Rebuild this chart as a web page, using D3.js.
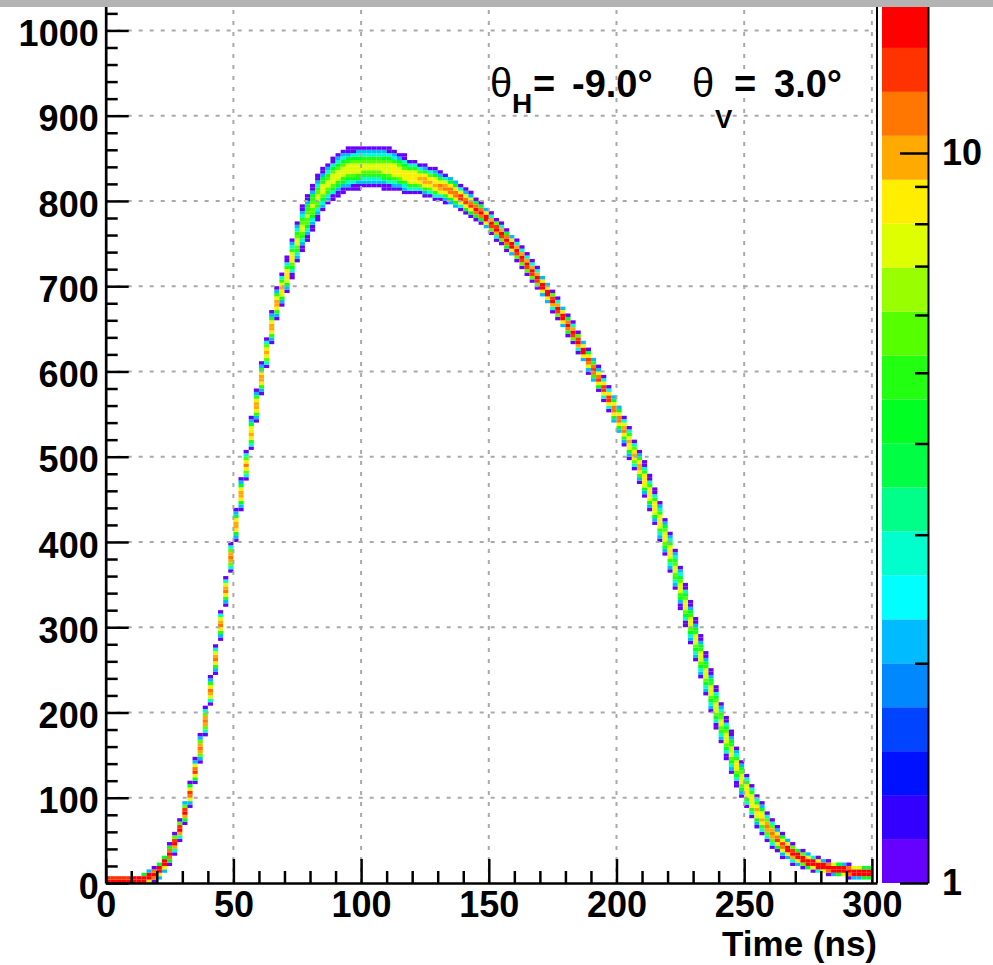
<!DOCTYPE html>
<html>
<head>
<meta charset="utf-8">
<script src="https://cdn.jsdelivr.net/npm/d3@7"></script>
<style>
  body { margin: 0; background: #fff; }
  text { font-family: "Liberation Sans", Arial, sans-serif; }
</style>
</head>
<body>
<svg id="chart" width="993" height="965"></svg>
<script>
// 2D histogram: x = time in 2 ns bins (0..300), y = pulse height in 4-unit bins
var binWidthNs = 2;
var binHeightAdc = 4;

// centre of the band, one value per 2 ns bin (bin centres 1, 3, ..., 299 ns)
var ridgeAdc = [
  3, 3, 3, 3, 3, 4, 4, 5, 7, 10,
  15, 23, 34, 47, 63, 83, 105, 131, 158, 190,
  225, 263, 303, 343, 382, 420, 456, 490, 527, 560,
  592, 622, 652, 680, 697, 713, 733, 752, 768, 781,
  793, 804, 813, 820, 826, 831, 835, 837, 838, 839,
  840, 840, 840, 840, 839, 838, 836, 834, 831, 828,
  828, 826, 824, 822, 819, 817, 815, 812, 808, 804,
  799, 795, 790, 786, 780, 773, 767, 761, 754, 748,
  741, 733, 725, 717, 709, 700, 692, 683, 673, 664,
  654, 645, 635, 624, 613, 602, 591, 580, 568, 556,
  544, 531, 517, 502, 488, 473, 457, 441, 424, 406,
  388, 368, 347, 326, 305, 285, 265, 245, 225, 206,
  188, 170, 153, 137, 122, 108, 96, 85, 75, 66,
  58, 51, 45, 40, 35, 31, 28, 25, 23, 21,
  19, 18, 17, 16, 15, 14, 13, 13, 12, 12
];

// vertical spread (sigma, ADC units) of the band in each time bin
var spreadAdc = [
  2, 2, 2, 2, 2, 2, 2, 2.5, 3, 3,
  4, 4, 4.5, 5, 5, 5.5, 6, 6, 6.5, 7,
  7, 7, 7, 7, 7, 7.5, 7.5, 7.5, 8, 8,
  8, 8, 8, 8, 8, 9, 10, 11, 12, 12,
  12, 12, 11, 11, 11, 11, 11, 11, 11, 11,
  11, 11, 11, 11, 11, 11, 10, 10, 10, 9,
  9, 8, 8, 8, 8, 7, 7, 7, 7, 6,
  6, 6, 5, 5, 5, 5, 5, 5, 5, 5,
  5, 5, 5, 5, 5, 5, 5, 5, 5, 5,
  5, 5, 5, 5, 6, 6, 6, 6, 6, 7,
  7, 7, 8, 8, 8, 9, 9, 9, 10, 10,
  10, 11, 11, 11, 11, 11, 11, 11, 11, 11,
  11, 11, 11, 10, 10, 9, 9, 8, 8, 7,
  7, 6, 6, 5, 5, 4, 4, 4, 3.5, 3.5,
  3, 3, 3, 3, 3, 3, 3, 3, 3, 3
];

var entriesPerColumn = 50;

var xTicks = [0, 50, 100, 150, 200, 250, 300];
var yTicks = [0, 100, 200, 300, 400, 500, 600, 700, 800, 900, 1000];
var zTicks = [1, 10];
var zMinorTicks = [2, 3, 4, 5, 6, 7, 8, 9];
var zMax = 16;
var nContours = 20;

// palette, bottom (1 entry) to top
var palette = ["#6600ff", "#3300ff", "#0011ff", "#0044ff", "#0088ff",
               "#00bbff", "#00ffff", "#00ffcc", "#00ff88", "#00ff44",
               "#00ff22", "#22ff11", "#55ff00", "#99ff00", "#ddff00",
               "#ffee00", "#ffaa00", "#ff7700", "#ff3300", "#ff0000"];

var svg = d3.select("#chart");

var x = d3.scaleLinear().domain([0, 302]).range([105.7, 877]);
var y = d3.scaleLinear().domain([0, 1031]).range([883, 4]);
var z = d3.scaleLog().domain([1, zMax]).range([883, 4]);

function colorOf(count) {
    var idx = Math.floor(nContours * Math.log(count) / Math.log(zMax) + 1e-9);
    return palette[Math.max(0, Math.min(nContours - 1, idx))];
}

// fill the histogram cells from the band centre / spread of each column
var cells = [];
ridgeAdc.forEach(function (c, i) {
    var s = spreadAdc[i];
    var lo = Math.floor((c - 5 * s) / binHeightAdc);
    var hi = Math.ceil((c + 5 * s) / binHeightAdc);
    for (var b = Math.max(0, lo); b <= hi; b++) {
        var mid = b * binHeightAdc + binHeightAdc / 2;
        var pdf = Math.exp(-0.5 * Math.pow((mid - c) / s, 2)) / (Math.sqrt(2 * Math.PI) * s);
        var n = Math.round(entriesPerColumn * binHeightAdc * pdf);
        if (n >= 1) cells.push({t: i * binWidthNs, v: b * binHeightAdc, n: n});
    }
});

svg.append("g").selectAll("rect")
    .data(cells)
    .enter()
    .append("rect")
    .attr("x", d => x(d.t))
    .attr("y", d => y(d.v + binHeightAdc))
    .attr("width", d => x(d.t + binWidthNs) - x(d.t))
    .attr("height", d => y(d.v) - y(d.v + binHeightAdc))
    .attr("fill", d => colorOf(d.n));

// grid
var grid = svg.append("g")
    .attr("stroke", "#a9a9a9")
    .attr("stroke-width", 2)
    .attr("stroke-dasharray", "4,7");
grid.selectAll(".gx").data(xTicks.slice(1)).enter().append("line")
    .attr("x1", d => x(d)).attr("x2", d => x(d))
    .attr("y1", y(0)).attr("y2", 4);
grid.selectAll(".gy").data(yTicks.slice(1)).enter().append("line")
    .attr("x1", x(0)).attr("x2", x(302))
    .attr("y1", d => y(d)).attr("y2", d => y(d));

// axes (ticks point into the frame like ROOT)
var yAxis = svg.append("g")
    .attr("transform", "translate(" + x(0) + ",0)")
    .call(d3.axisLeft(y).tickValues(yTicks).tickFormat(d3.format("d"))
        .tickSizeInner(-23).tickSizeOuter(0).tickPadding(7));
svg.append("g")
    .attr("transform", "translate(" + x(0) + ",0)")
    .call(d3.axisLeft(y).tickValues(d3.range(20, 1031, 20).filter(v => v % 100 !== 0))
        .tickSizeInner(-12).tickSizeOuter(0).tickFormat(""))
    .select(".domain").remove();

var xAxis = svg.append("g")
    .attr("transform", "translate(0," + y(0) + ")")
    .call(d3.axisBottom(x).tickValues(xTicks).tickFormat(d3.format("d"))
        .tickSizeInner(-24).tickSizeOuter(0).tickPadding(8));
svg.append("g")
    .attr("transform", "translate(0," + y(0) + ")")
    .call(d3.axisBottom(x).tickValues(d3.range(10, 301, 10).filter(v => v % 50 !== 0))
        .tickSizeInner(-12).tickSizeOuter(0).tickFormat(""))
    .select(".domain").remove();

svg.selectAll(".tick line").attr("stroke", "#000").attr("stroke-width", 2.5);
svg.selectAll(".domain").attr("stroke", "#000").attr("stroke-width", 2.7);
yAxis.selectAll("text").attr("dy", "0.42em");
svg.selectAll(".tick text")
    .attr("font-family", "Liberation Sans, Arial, sans-serif")
    .attr("font-weight", "bold")
    .attr("font-size", 36)
    .attr("fill", "#000");

// right frame line
svg.append("line")
    .attr("x1", 877).attr("x2", 877).attr("y1", 4).attr("y2", y(0))
    .attr("stroke", "#000").attr("stroke-width", 2);

// axis title
svg.append("text")
    .attr("x", 877).attr("y", 956)
    .attr("text-anchor", "end")
    .attr("font-weight", "bold")
    .attr("font-size", 35)
    .text("Time (ns)");

// colour bar
var levels = d3.range(nContours + 1).map(i => Math.pow(zMax, i / nContours));
svg.append("g").selectAll("rect")
    .data(palette)
    .enter()
    .append("rect")
    .attr("x", 882)
    .attr("width", 46)
    .attr("y", (d, i) => z(levels[i + 1]))
    .attr("height", (d, i) => z(levels[i]) - z(levels[i + 1]))
    .attr("fill", d => d);

var zAxis = svg.append("g")
    .attr("transform", "translate(928,0)")
    .call(d3.axisRight(z).tickValues(zTicks).tickFormat(d3.format("d"))
        .tickSizeInner(-28).tickSizeOuter(0).tickPadding(14));
svg.append("g")
    .attr("transform", "translate(928,0)")
    .call(d3.axisRight(z).tickValues(zMinorTicks).tickFormat("")
        .tickSizeInner(-13).tickSizeOuter(0))
    .select(".domain").remove();
svg.selectAll(".tick line").attr("stroke", "#000").attr("stroke-width", 2.5);
zAxis.select(".domain").attr("stroke", "#000").attr("stroke-width", 2);
zAxis.selectAll("text")
    .attr("font-weight", "bold")
    .attr("font-size", 36)
    .attr("fill", "#000");

// angle label
var lbl = svg.append("g").attr("fill", "#000");
lbl.append("text").attr("x", 490).attr("y", 97)
    .attr("font-family", "Liberation Serif, Times New Roman, serif").attr("font-size", 40).text("θ");
lbl.append("text").attr("x", 512).attr("y", 113)
    .attr("font-weight", "bold").attr("font-size", 28).text("H");
lbl.append("text").attr("x", 533).attr("y", 97)
    .attr("font-weight", "bold").attr("font-size", 38).text("=");
lbl.append("text").attr("x", 572).attr("y", 97)
    .attr("font-weight", "bold").attr("font-size", 38).text("-9.0°");
lbl.append("text").attr("x", 692).attr("y", 97)
    .attr("font-family", "Liberation Serif, Times New Roman, serif").attr("font-size", 40).text("θ");
lbl.append("text").attr("x", 715).attr("y", 128)
    .attr("font-weight", "bold").attr("font-size", 26).text("V");
lbl.append("text").attr("x", 734).attr("y", 97)
    .attr("font-weight", "bold").attr("font-size", 38).text("=");
lbl.append("text").attr("x", 774).attr("y", 97)
    .attr("font-weight", "bold").attr("font-size", 38).text("3.0°");

// grey strip along the top edge
svg.append("rect")
    .attr("x", 0).attr("y", 0).attr("width", 993).attr("height", 7)
    .attr("fill", "#b3b3b3");
</script>
</body>
</html>
